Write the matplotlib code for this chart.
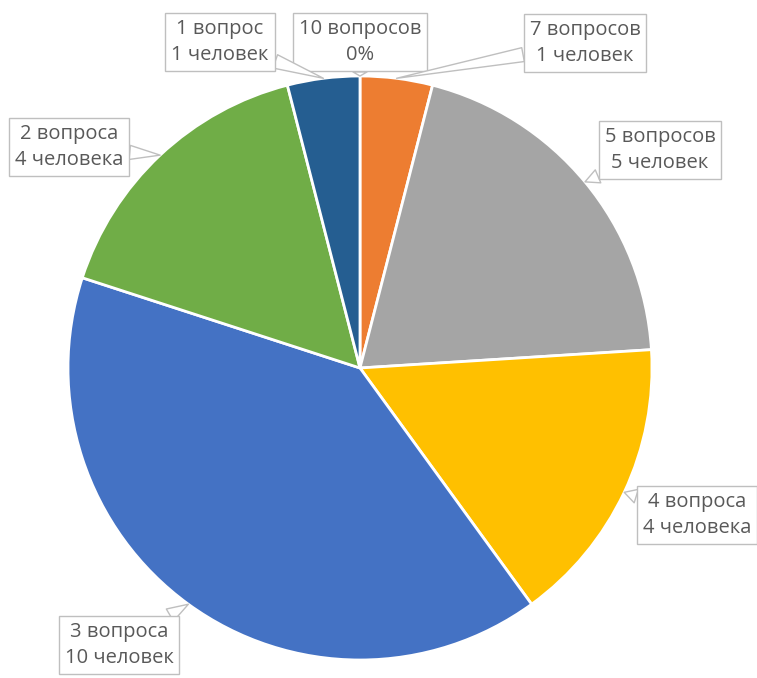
import numpy as np
import matplotlib.pyplot as plt

# данные: число верных ответов и количество человек
labels = ['10 вопросов\n0%', '7 вопросов\n1 человек', '5 вопросов\n5 человек',
          '4 вопроса\n4 человека', '3 вопроса\n10 человек', '2 вопроса\n4 человека',
          '1 вопрос\n1 человек']
people = [0, 1, 5, 4, 10, 4, 1]
colors = ['#A9D18E', '#ED7D31', '#A5A5A5', '#FFC000', '#4472C4', '#70AD47', '#255E91']

# где стоят подписи (в пикселях картинки)
label_pos = [(360, 42), (585, 43), (660, 150), (697, 515), (119, 645), (69, 147), (220, 42)]

W, H = 757, 678
cx, cy, R = 360, 368, 292

fig = plt.figure(figsize=(W / 100, H / 100), dpi=100)
ax = fig.add_axes([0, 0, 1, 1])

wedges, _ = ax.pie(people, colors=colors, startangle=90, counterclock=False,
                   center=(cx, H - cy), radius=R,
                   wedgeprops=dict(edgecolor='white', linewidth=2))

ax.set_xlim(0, W)
ax.set_ylim(0, H)
ax.set_aspect('equal')
ax.axis('off')

for w, lab, (lx, ly) in zip(wedges, labels, label_pos):
    ang = np.deg2rad((w.theta1 + w.theta2) / 2)
    px = cx + R * np.cos(ang)
    py = (H - cy) + R * np.sin(ang)
    ax.annotate(lab, xy=(px, py), xytext=(lx, H - ly),
                ha='center', va='center', fontsize=14.5, color='#595959',
                family=['Open Sans', 'DejaVu Sans'], linespacing=1.45,
                bbox=dict(boxstyle='square,pad=0.3', fc='white', ec='#BFBFBF', lw=1),
                arrowprops=dict(arrowstyle='wedge,tail_width=0.7', fc='white',
                                ec='#BFBFBF', lw=1, shrinkA=0, shrinkB=0))

fig.savefig('out.png', dpi=100)
